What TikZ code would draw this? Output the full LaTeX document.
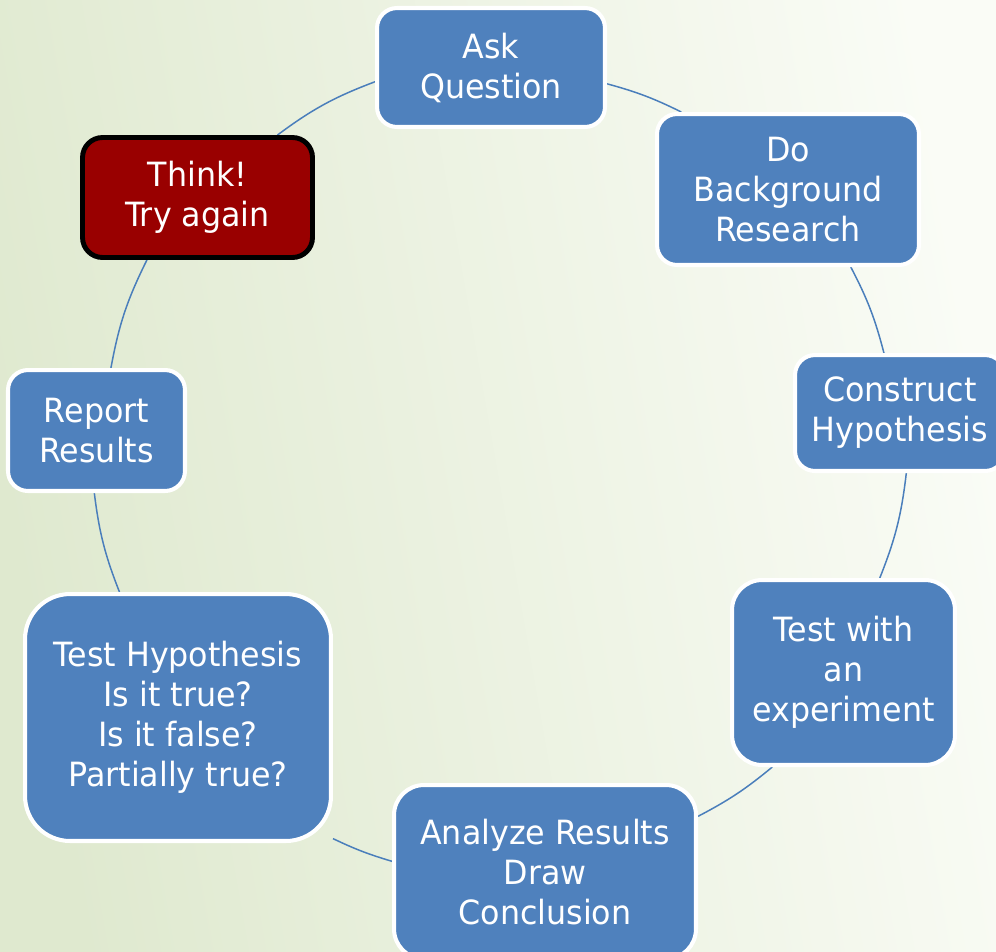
\documentclass[tikz,border=0pt]{standalone}
\usepackage{fontspec}
\setmainfont{DejaVu Sans}[FakeStretch=0.95]
\usetikzlibrary{backgrounds}
\definecolor{boxblue}{HTML}{4F81BD}
\definecolor{linkblue}{HTML}{4A7EBB}
\definecolor{thinkred}{HTML}{990000}
\definecolor{bggreen}{HTML}{DFE9CF}
\definecolor{bgwhite}{HTML}{FAFCF6}
\tikzset{
  stepbox/.style={rectangle, rounded corners=0.4cm, fill=boxblue, draw=white,
    line width=2.3pt, text=white, align=center, inner sep=0pt,
    font=\fontsize{19}{22.8}\selectfont},
  thinkbox/.style={stepbox, fill=thinkred, draw=black, line width=2.8pt},
  link/.style={draw=linkblue, line width=0.85pt}
}
\begin{document}
\begin{tikzpicture}[x=0.02cm, y=-0.02cm]
\useasboundingbox (0,0) rectangle (996,951);
\clip (0,0) rectangle (996,951);
\node[stepbox, minimum width=4.56cm, minimum height=2.38cm] (ask) at (491,67.5) {Ask\\Question};
\node[stepbox, minimum width=5.24cm, minimum height=3.02cm] (bg) at (788,189.5) {Do\\Background\\Research};
\node[stepbox, minimum width=4.2cm, minimum height=2.32cm] (con) at (900,413) {Construct\\Hypothesis};
\node[stepbox, rounded corners=0.6cm, minimum width=4.46cm, minimum height=3.7cm] (tw) at (843.5,672.5) {Test with\\an\\experiment};
\node[stepbox, rounded corners=0.6cm, minimum width=6.04cm, minimum height=3.48cm] (ana) at (545,872) {Analyze Results\\Draw\\Conclusion};
\node[stepbox, rounded corners=0.9cm, minimum width=6.12cm, minimum height=4.94cm] (th) at (178,717.5) {Test Hypothesis\\Is it true?\\Is it false?\\Partially true?};
\node[stepbox, minimum width=3.54cm, minimum height=2.42cm] (rep) at (96.5,430.5) {Report\\Results};
\node[thinkbox, minimum width=4.6cm, minimum height=2.4cm] (think) at (197.5,197.5) {Think!\\Try again};
\begin{scope}[on background layer]
\shade[left color=bggreen, right color=bgwhite, shading angle=100] (0,0) rectangle (996,951);
\draw[link] (ask.-8.6) to[bend left=5.5] (bg.144);
\draw[link] (bg.-51.3) to[bend left=6.5] (con.105.6);
\draw[link] (con.-84.4) to[bend left=7.5] (tw.69);
\draw[link] (tw.233.6) to[bend left=6] (ana.20.5);
\draw[link] (ana.176.3) to[bend left=4.4] (th.-38.7);
\draw[link] (th.115.6) to[bend left=7.2] (rep.268.6);
\draw[link] (rep.77.8) to[bend left=8] (think.231.6);
\draw[link] (think.38.9) to[bend left=8] (ask.187.7);
\end{scope}
\end{tikzpicture}
\end{document}
